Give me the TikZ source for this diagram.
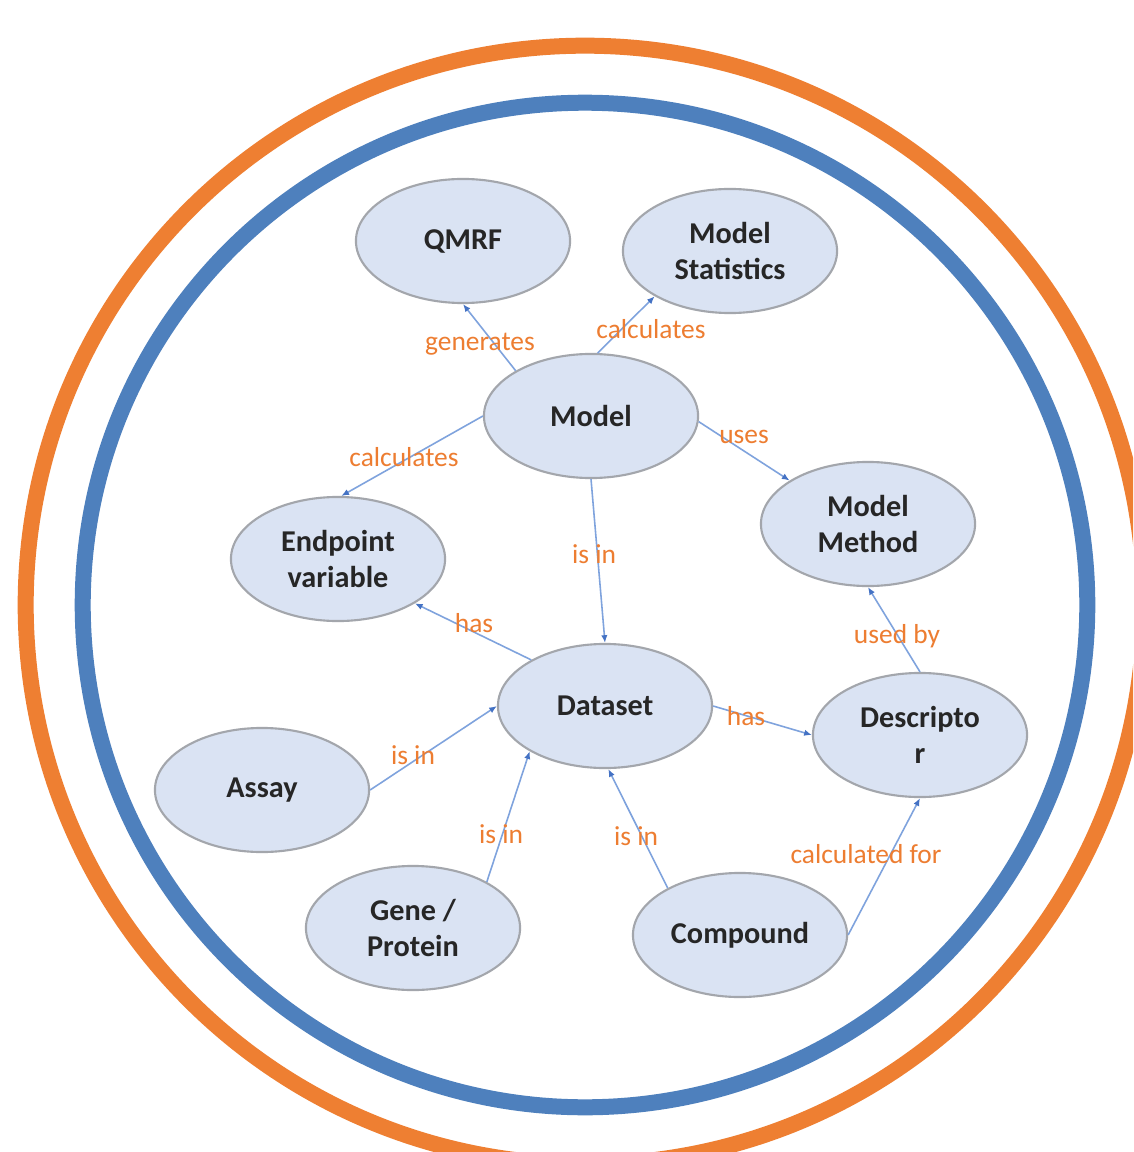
\documentclass[tikz,border=0pt]{standalone}
\usepackage{fontspec}
\newfontfamily\carlito{Carlito}
\usepackage{tikz}
\usetikzlibrary{shapes.geometric,arrows.meta}
\definecolor{ringorange}{HTML}{EE7F32}
\definecolor{ringblue}{HTML}{4E80BD}
\definecolor{bubblefill}{HTML}{DAE3F3}
\definecolor{bubbleline}{HTML}{A3A6AC}
\definecolor{linkblue}{HTML}{7FA3DD}
\definecolor{tipblue}{HTML}{4472C4}
\definecolor{labelorange}{HTML}{ED7D31}

\begin{document}
\begin{tikzpicture}[x=0.01cm,y=-0.01cm,
    bubble/.style={ellipse, draw=bubbleline, line width=0.6pt, fill=bubblefill,
        minimum width=2.14cm, minimum height=1.24cm, inner sep=0pt, align=center,
        text=black!85, font=\carlito\bfseries\fontsize{8.6}{10.4}\selectfont},
    link/.style={draw=linkblue, line width=0.45pt,
        -{Latex[length=2.2pt,width=1.8pt,color=tipblue]}},
    lbl/.style={text=labelorange, inner sep=0pt, font=\carlito\fontsize{7.8}{9}\selectfont}]
        \clip (0,0) rectangle (1133,1152);
        \fill[white] (0,0) rectangle (1133,1152);

        % Draw the two rings
        \draw[ringorange, line width=4.55pt] (585,605) circle[radius=5.59cm];
        \draw[ringblue, line width=4.55pt] (585,605) circle[radius=5.02cm];

        % Concepts
        \node[bubble] (qmrf) at (463,241) {QMRF};
        \node[bubble] (stats) at (730,251) {Model\\Statistics};
        \node[bubble] (model) at (591,416) {Model};
        \node[bubble] (endpoint) at (338,559) {Endpoint\\variable};
        \node[bubble] (method) at (868,524) {Model\\Method};
        \node[bubble] (dataset) at (605,706) {Dataset};
        \node[bubble] (descriptor) at (920,735) {Descripto\\r};
        \node[bubble] (assay) at (262,790) {Assay};
        \node[bubble] (gene) at (413,928) {Gene /\\Protein};
        \node[bubble] (compound) at (740,935) {Compound};

        % Relations
        \draw[link] (model.149) -- (qmrf.south);
        \draw[link] (model.84) -- (stats.211);
        \draw[link] (model.west) -- (endpoint.87);
        \draw[link] (model.-3) -- (method.151);
        \draw[link] (model.south) -- (dataset.north);
        \draw[link] (dataset.148) -- (endpoint.-30);
        \draw[link] (dataset.east) -- (descriptor.west);
        \draw[link] (descriptor.north) -- (method.south);
        \draw[link] (assay.east) -- (dataset.west);
        \draw[link] (gene.32) -- (dataset.211);
        \draw[link] (compound.147) -- (dataset.273);
        \draw[link] (compound.east) -- (descriptor.south);

        % Relation labels
        \node[lbl] (l-gen) at (480,344) {generates};
        \node[lbl] (l-calcstats) at (651,329) {calculates};
        \node[lbl] (l-calcend) at (404,457) {calculates};
        \node[lbl] (l-uses) at (744,437) {uses};
        \node[lbl] (l-isin) at (594,554) {is in};
        \node[lbl] (l-hasend) at (474,623) {has};
        \node[lbl] (l-hasdesc) at (746,716) {has};
        \node[lbl] (l-usedby) at (897,636) {used by};
        \node[lbl] (l-assay) at (413,755) {is in};
        \node[lbl] (l-gene) at (501,834) {is in};
        \node[lbl] (l-comp) at (636,836) {is in};
        \node[lbl] (l-calcfor) at (866,854) {calculated for};
\end{tikzpicture}
\end{document}
